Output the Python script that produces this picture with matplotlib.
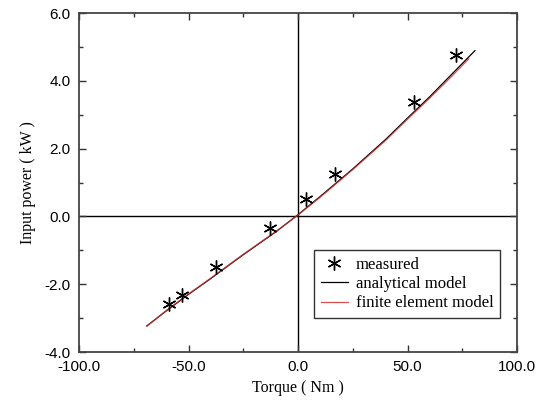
import numpy as np
import matplotlib
matplotlib.use("Agg")
import matplotlib.pyplot as plt
from matplotlib.ticker import MultipleLocator, FormatStrFormatter

# measured points (torque Nm, input power kW)
meas_x = [-58.8, -53.0, -37.3, -13.0, 3.6, 17.0, 52.8, 72.2]
meas_y = [-2.58, -2.33, -1.50, -0.35, 0.50, 1.25, 3.38, 4.75]

# model curves
ana_x = [-69.0, -60.0, -50.0, -40.0, -25.0, -10.0, 0.0, 10.0, 25.0, 40.0, 50.0, 60.0, 70.0, 80.8]
ana_y = [-3.23, -2.78, -2.30, -1.84, -1.13, -0.45, 0.05, 0.58, 1.40, 2.27, 2.90, 3.52, 4.18, 4.89]
fem_x = [-69.0, -60.0, -50.0, -40.0, -25.0, -10.0, 0.0, 10.0, 25.0, 40.0, 50.0, 60.0, 70.0, 78.0]
fem_y = [-3.24, -2.77, -2.29, -1.83, -1.12, -0.44, 0.04, 0.56, 1.38, 2.24, 2.87, 3.48, 4.12, 4.65]

serif = "Liberation Serif"
sans = "Liberation Sans"

fig = plt.figure(figsize=(5.36, 4.03), dpi=100)
ax = fig.add_axes([79 / 536, 1 - 352 / 403, 438 / 536, 339 / 403])

ax.axhline(0, color="black", lw=1.0, zorder=1)
ax.axvline(0, color="black", lw=1.0, zorder=1)

ax.plot(meas_x, meas_y, linestyle="none", marker=(6, 2, 0), markersize=10,
        mew=1.0, color="black", label="measured", zorder=4)
ax.plot(ana_x, ana_y, color="black", lw=0.9, label="analytical model", zorder=3)
ax.plot(fem_x, fem_y, color="#d03030", lw=0.9, alpha=0.85,
        label="finite element model", zorder=3)

ax.set_xlim(-100, 100)
ax.set_ylim(-4, 6)
ax.xaxis.set_major_locator(MultipleLocator(50))
ax.xaxis.set_minor_locator(MultipleLocator(25))
ax.yaxis.set_major_locator(MultipleLocator(2))
ax.yaxis.set_minor_locator(MultipleLocator(1))
ax.xaxis.set_major_formatter(FormatStrFormatter("%.1f"))
ax.yaxis.set_major_formatter(FormatStrFormatter("%.1f"))
ax.tick_params(which="both", direction="in", top=True, right=True,
               color="#333333", width=1.0)
ax.tick_params(which="major", length=5, pad=6, labelsize=11)
ax.tick_params(which="minor", length=3)
for lab in ax.get_xticklabels() + ax.get_yticklabels():
    lab.set_family(sans)
for sp in ax.spines.values():
    sp.set_linewidth(1.3)
    sp.set_color("#444444")

ax.set_xlabel("Torque ( Nm )", family=serif, fontsize=11.5, labelpad=4)
ax.set_ylabel("Input power ( kW )", family=serif, fontsize=11.5, labelpad=6)

leg = ax.legend(loc="lower right", bbox_to_anchor=(0.962, 0.1),
                borderaxespad=0,
                prop={"family": serif, "size": 12}, fancybox=False,
                edgecolor="#333333", framealpha=1, borderpad=0.4,
                handlelength=1.6, handletextpad=0.5, labelspacing=0.2,
                numpoints=1)
leg.get_frame().set_linewidth(1.0)

fig.savefig("out.png", dpi=100)
